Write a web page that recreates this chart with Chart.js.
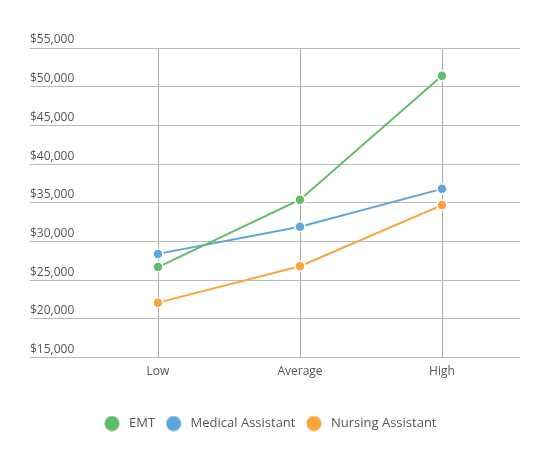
<!DOCTYPE html>
<html>
<head>
<meta charset="utf-8">
<script src="https://cdn.jsdelivr.net/npm/chart.js@4"></script>
<style>
  html, body { margin: 0; padding: 0; background: #fff; }
  #wrap { width: 550px; height: 462px; }
</style>
</head>
<body>
<div id="wrap"><canvas id="salaryChart"></canvas></div>
<script>
// salary levels on the x axis
const levels = ['Low', 'Average', 'High'];

// salary per job
const emtSalary = [26700, 35400, 51400];
const medicalAssistantSalary = [28400, 31900, 36800];
const nursingAssistantSalary = [22100, 26800, 34700];

// y axis range and tick step
const yMin = 15000;
const yMax = 55000;
const yStep = 5000;

const fontFamily = "'Open Sans', 'DejaVu Sans', sans-serif";
const textColor = '#555';

const makeSeries = (label, data, color) => ({
    label: label,
    data: data,
    borderColor: color,
    backgroundColor: color,
    borderWidth: 2,
    pointRadius: 5,
    pointHoverRadius: 5,
    pointBorderColor: '#fff',
    pointBorderWidth: 1.5,
    pointBackgroundColor: color,
    tension: 0,
});

// plain filled dot for the legend, so the gap to the text can be set
const legendDot = (color) => {
    const c = document.createElement('canvas');
    c.width = 16;
    c.height = 16;
    const g = c.getContext('2d');
    g.fillStyle = color;
    g.beginPath();
    g.arc(8, 8, 7.5, 0, Math.PI * 2);
    g.fill();
    return c;
};

// the legend sits a little left of the centre in the original
const legendShift = {
    id: 'legendShift',
    afterLayout(chart) {
        chart.legend.left -= 6;
        chart.legend.right -= 6;
    },
};

const ctx = document.getElementById('salaryChart').getContext('2d');
new Chart(ctx, {
    type: 'line',
    data: {
        labels: levels,
        datasets: [
            makeSeries('EMT', emtSalary, '#60bd68'),
            makeSeries('Medical Assistant', medicalAssistantSalary, '#5da5da'),
            makeSeries('Nursing Assistant', nursingAssistantSalary, '#faa43a'),
        ],
    },
    plugins: [legendShift],
    options: {
        responsive: true,
        maintainAspectRatio: false,
        animation: false,
        layout: {
            padding: { top: 48, left: 30, right: 30, bottom: 22 },
        },
        plugins: {
            tooltip: { enabled: false },
            legend: {
                position: 'bottom',
                labels: {
                    usePointStyle: true,
                    pointStyleWidth: 21,
                    boxHeight: 10.6,
                    padding: 8,
                    color: textColor,
                    font: { family: fontFamily, size: 13 },
                    generateLabels: (chart) => {
                        const items = Chart.defaults.plugins.legend.labels.generateLabels(chart);
                        items.forEach((item) => {
                            item.pointStyle = legendDot(chart.data.datasets[item.datasetIndex].borderColor);
                        });
                        return items;
                    },
                },
            },
        },
        scales: {
            x: {
                type: 'category',
                offset: true,
                grid: {
                    offset: false,
                    color: '#aaa',
                    drawTicks: false,
                },
                border: { display: false },
                ticks: {
                    color: textColor,
                    padding: 7,
                    font: { family: fontFamily, size: 12 },
                },
                // extra room between the labels and the legend
                afterFit: (scale) => { scale.height += 23; },
            },
            y: {
                position: 'left',
                min: yMin,
                max: yMax,
                grid: {
                    color: '#bbb',
                    tickColor: '#bbb',
                    tickLength: 57,
                },
                border: { display: false },
                ticks: {
                    stepSize: yStep,
                    crossAlign: 'far',
                    padding: 0,
                    labelOffset: -8,
                    color: textColor,
                    font: { family: fontFamily, size: 12 },
                    callback: (value) => '$' + value.toLocaleString('en-US'),
                },
                afterFit: (scale) => { scale.width = 57; },
            },
            // only here to carry the grid lines past the last category
            yRight: {
                position: 'right',
                min: yMin,
                max: yMax,
                grid: {
                    drawOnChartArea: false,
                    color: '#bbb',
                    tickColor: '#bbb',
                    tickLength: 7,
                },
                border: { display: false },
                ticks: { stepSize: yStep, display: false },
                afterFit: (scale) => { scale.width = 7; },
            },
        },
    },
});
</script>
</body>
</html>
